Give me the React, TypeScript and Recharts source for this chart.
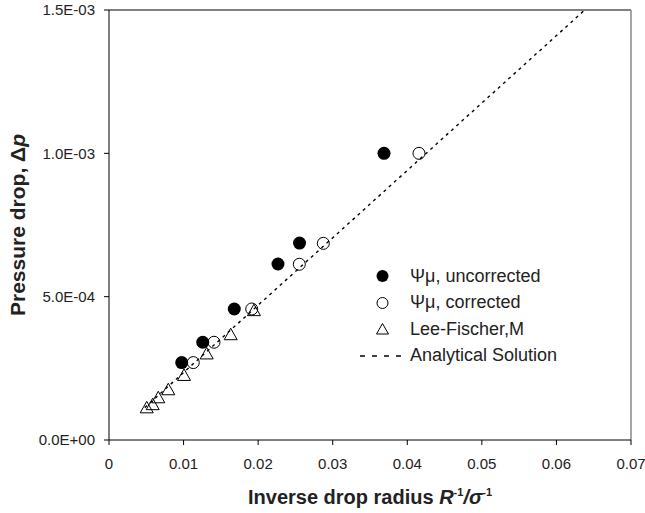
import React from 'react';
import {
  ScatterChart, Scatter, XAxis, YAxis, ReferenceLine, Legend,
} from 'recharts';

// Ψμ, uncorrected
const uncorrectedX = [0.00975, 0.01257, 0.0168, 0.02266, 0.02555, 0.03688];
const uncorrectedY = [2.70e-4, 3.41e-4, 4.57e-4, 6.14e-4, 6.87e-4, 1.0e-3];

// Ψμ, corrected
const correctedX = [0.0113, 0.01408, 0.01914, 0.02552, 0.02874, 0.04157];
const correctedY = [2.70e-4, 3.41e-4, 4.57e-4, 6.13e-4, 6.86e-4, 1.0e-3];

// Lee-Fischer,M
const leeFischerX = [0.00506, 0.00586, 0.00661, 0.00795, 0.01006, 0.0131, 0.01632, 0.01944];
const leeFischerY = [1.14e-4, 1.25e-4, 1.49e-4, 1.77e-4, 2.27e-4, 3.02e-4, 3.69e-4, 4.53e-4];

// Analytical Solution (end points of the straight line)
const analyticalX = [0.0048, 0.0638];
const analyticalY = [1.13e-4, 1.5e-3];

const xTicks = [0, 0.01, 0.02, 0.03, 0.04, 0.05, 0.06, 0.07];
const yTicks = [0, 0.0005, 0.001, 0.0015];

const seriesNames = ['Ψμ, uncorrected', 'Ψμ, corrected', 'Lee-Fischer,M', 'Analytical Solution'];

const toPoints = (xs: number[], ys: number[]) => xs.map((x, i) => ({ x, y: ys[i] }));

const FONT = '"Liberation Sans", Arial, sans-serif';
const TEXT = '#222';

// 1.0E-03 style labels
const fmtSci = (v: number) => {
  const [m, e] = v.toExponential(1).split('e');
  const sign = e[0] === '-' ? '-' : '+';
  const digits = e.replace(/[+-]/, '').padStart(2, '0');
  return `${m}E${sign}${digits}`;
};

const FilledDot = (p: any) => <circle cx={p.cx} cy={p.cy} r={6.5} fill="#000" />;
const OpenDot = (p: any) => (
  <circle cx={p.cx} cy={p.cy} r={6} fill="none" stroke="#000" strokeWidth={1} />
);
const Triangle = (p: any) => (
  <path
    d={`M${p.cx},${p.cy - 6} L${p.cx + 6.5},${p.cy + 5.5} L${p.cx - 6.5},${p.cy + 5.5} Z`}
    fill="none"
    stroke="#000"
    strokeWidth={1}
  />
);
const NoDot = () => <g />;

const XTitle = (props: any) => {
  const vb = props.viewBox;
  const cx = vb.x + vb.width / 2;
  const y = vb.y + 64;
  return (
    <text x={cx} y={y} textAnchor="middle" fontFamily={FONT} fontSize={20} fontWeight="bold" fill={TEXT}>
      Inverse drop radius <tspan fontStyle="italic">R</tspan>
      <tspan fontSize={11} dy={-8}>-1</tspan>
      <tspan dy={8} fontStyle="italic">/σ</tspan>
      <tspan fontSize={11} dy={-8}>-1</tspan>
    </text>
  );
};

const YTitle = (props: any) => {
  const vb = props.viewBox;
  const cy = vb.y + vb.height / 2;
  const cx = 17;
  return (
    <text
      x={cx}
      y={cy}
      transform={`rotate(-90, ${cx}, ${cy})`}
      textAnchor="middle"
      dominantBaseline="central"
      fontFamily={FONT}
      fontSize={21}
      fontWeight="bold"
      fill={TEXT}
    >
      Pressure drop, Δ<tspan fontStyle="italic">p</tspan>
    </text>
  );
};

const LegendIcon = ({ index }: { index: number }) => {
  if (index === 0) return <circle cx={27.5} cy={13} r={6} fill="#000" />;
  if (index === 1) return <circle cx={27.5} cy={13} r={5.5} fill="none" stroke="#000" />;
  if (index === 2) return <path d="M27.5,7.5 L33.5,18 L21.5,18 Z" fill="none" stroke="#000" />;
  return <line x1={5} y1={13} x2={51} y2={13} stroke="#000" strokeWidth={1.5} strokeDasharray="5 7" />;
};

const LegendBox = () => (
  <div style={{ fontFamily: FONT, fontSize: 18, color: TEXT }}>
    {seriesNames.map((name, i) => (
      <div key={name} style={{ display: 'flex', alignItems: 'center', height: 26.5 }}>
        <svg width={55} height={26}>
          <LegendIcon index={i} />
        </svg>
        <span style={{ whiteSpace: 'nowrap' }}>{name}</span>
      </div>
    ))}
  </div>
);

export default function App() {
  return (
    <div style={{ position: 'absolute', left: 0, top: 0 }}>
      <ScatterChart
        width={645}
        height={513}
        margin={{ top: 10, right: 14, bottom: 0, left: 0 }}
      >
        <XAxis
          type="number"
          dataKey="x"
          domain={[0, 0.07]}
          ticks={xTicks}
          height={73}
          tickSize={5}
          tickMargin={13}
          stroke="#000"
          tick={{ fill: TEXT, fontSize: 15, fontFamily: FONT }}
          label={<XTitle />}
        />
        <YAxis
          type="number"
          dataKey="y"
          domain={[0, 0.0015]}
          ticks={yTicks}
          width={109}
          tickSize={5}
          tickMargin={9}
          tickFormatter={fmtSci}
          stroke="#000"
          tick={{ fill: TEXT, fontSize: 15, fontFamily: FONT }}
          label={<YTitle />}
        />
        <ReferenceLine y={0.0015} stroke="#000" />
        <ReferenceLine x={0.07} stroke="#888" strokeWidth={1.5} />
        <Scatter
          name={seriesNames[0]}
          data={toPoints(uncorrectedX, uncorrectedY)}
          shape={FilledDot}
          isAnimationActive={false}
        />
        <Scatter
          name={seriesNames[1]}
          data={toPoints(correctedX, correctedY)}
          shape={OpenDot}
          isAnimationActive={false}
        />
        <Scatter
          name={seriesNames[2]}
          data={toPoints(leeFischerX, leeFischerY)}
          shape={Triangle}
          isAnimationActive={false}
        />
        <Scatter
          name={seriesNames[3]}
          data={toPoints(analyticalX, analyticalY)}
          shape={NoDot}
          line={{ stroke: '#000', strokeWidth: 1.4, strokeDasharray: '3 4' }}
          isAnimationActive={false}
        />
        <Legend
          layout="vertical"
          align="center"
          verticalAlign="middle"
          content={<LegendBox />}
          wrapperStyle={{ left: 355, top: 263, width: 240, bottom: 'auto', right: 'auto' }}
        />
      </ScatterChart>
    </div>
  );
}
